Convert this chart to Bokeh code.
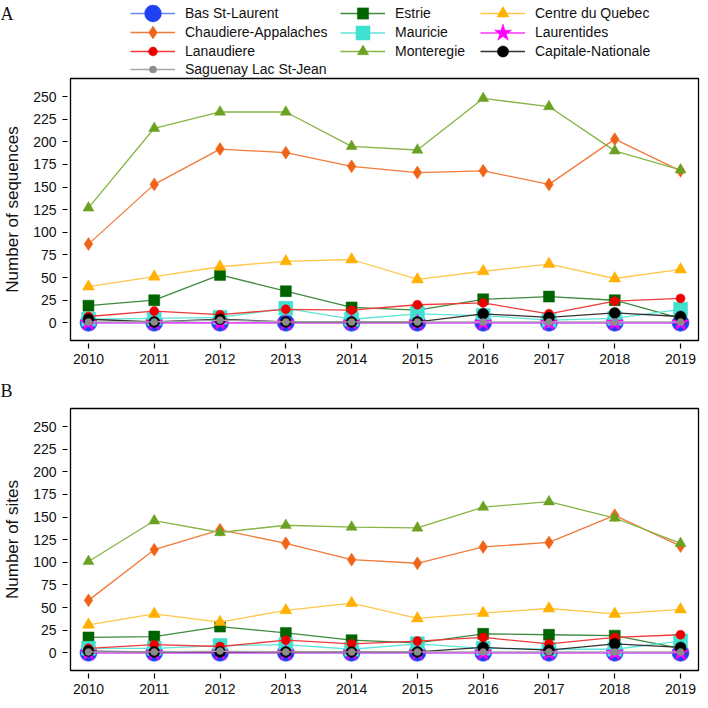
from bokeh.plotting import figure
from bokeh.models import Range1d, FixedTicker, Legend, LegendItem, Label, ColumnDataSource
from bokeh.layouts import column
from bokeh.embed import file_html
from bokeh.resources import INLINE

years = [2010, 2011, 2012, 2013, 2014, 2015, 2016, 2017, 2018, 2019]
regions = ["Bas St-Laurent", "Estrie", "Centre du Quebec", "Chaudiere-Appalaches",
           "Mauricie", "Laurentides", "Lanaudiere", "Monteregie",
           "Capitale-Nationale", "Saguenay Lac St-Jean"]
y_ticks = [0, 25, 50, 75, 100, 125, 150, 175, 200, 225, 250]

# Panel A: number of sequences
seq_bas = [0, 0, 0, 0, 0, 0, 0, 0, 0, 0]
seq_estrie = [19, 25, 53, 35, 17, 14, 26, 29, 25, 5]
seq_centre = [40, 51, 62, 68, 70, 48, 57, 65, 49, 59]
seq_chaudiere = [87, 153, 192, 188, 173, 166, 168, 153, 203, 168]
seq_mauricie = [4, 5, 6, 16, 4, 10, 8, 3, 5, 15]
seq_laurentides = [0, 0, 0, 0, 0, 0, 0, 0, 0, 0]
seq_lanaudiere = [7, 13, 9, 15, 14, 20, 22, 10, 24, 27]
seq_monteregie = [127, 215, 233, 233, 195, 191, 248, 239, 190, 169]
seq_capitale = [4, 1, 4, 1, 1, 1, 10, 6, 11, 7]
seq_saguenay = [1, 1, 3, 1, 1, 1, 1, 1, 1, 1]

# Panel B: number of sites
site_bas = [0, 0, 0, 0, 0, 0, 0, 0, 0, 0]
site_estrie = [17, 18, 29, 22, 14, 11, 21, 20, 19, 5]
site_centre = [31, 43, 34, 47, 55, 38, 44, 49, 43, 48]
site_chaudiere = [58, 114, 136, 121, 103, 99, 117, 122, 152, 118]
site_mauricie = [5, 5, 8, 9, 4, 10, 5, 4, 4, 13]
site_laurentides = [0, 0, 0, 0, 0, 0, 0, 0, 0, 0]
site_lanaudiere = [5, 9, 7, 14, 10, 13, 17, 10, 17, 20]
site_monteregie = [101, 146, 133, 141, 139, 138, 161, 167, 149, 121]
site_capitale = [2, 1, 1, 1, 1, 1, 6, 3, 10, 6]
site_saguenay = [1, 1, 2, 1, 1, 1, 1, 1, 1, 1]

seq_series = [seq_bas, seq_estrie, seq_centre, seq_chaudiere, seq_mauricie,
              seq_laurentides, seq_lanaudiere, seq_monteregie, seq_capitale, seq_saguenay]
site_series = [site_bas, site_estrie, site_centre, site_chaudiere, site_mauricie,
               site_laurentides, site_lanaudiere, site_monteregie, site_capitale, site_saguenay]

# styles: marker, size, fill colour, line colour
styles = [
    ("circle", 17, "#2040F4", "#6F86F5"),
    ("square", 11, "#006400", "#3E8A3E"),
    ("triangle", 12, "#FFB000", "#FFC64A"),
    ("diamond", 13, "#F06418", "#F27A3A"),
    ("square", 14, "#40E0D0", "#5EE6D8"),
    ("star", 18, "#FF00FF", "#FF33FF"),
    ("circle", 9, "#EE0000", "#F03A3A"),
    ("triangle", 11, "#6AA121", "#85B544"),
    ("circle", 11, "#000000", "#333333"),
    ("circle", 7, "#8C8C8C", "#A6A6A6"),
]

FONT = "Liberation Sans"
WIDTH = 700
BORDER_LEFT = 68
BORDER_RIGHT = 2
FRAME_H = 262
LEG_H = 77
GAP_H = 36
PANEL_TOP = 1
PANEL_H = 293


def draw_series(p, series, visible=True):
    out = []
    for name, vals, (mk, sz, fc, lc) in zip(regions, series, styles):
        src = ColumnDataSource(dict(x=years, y=vals))
        ln = p.line("x", "y", source=src, line_color=lc, line_width=1.3, visible=visible)
        sc = p.scatter("x", "y", source=src, marker=mk, size=sz, fill_color=fc,
                       line_color=fc, line_width=0.5, visible=visible)
        out.append((name, ln, sc, sz))
    return out


def make_panel(series, ylabel, top, height):
    p = figure(width=WIDTH, height=height, output_backend="svg", toolbar_location=None,
               x_range=Range1d(2009.727, 2019.273), y_range=Range1d(-19.5, 270),
               min_border_left=BORDER_LEFT, min_border_right=BORDER_RIGHT,
               min_border_top=top, min_border_bottom=height - top - FRAME_H)
    p.xgrid.visible = False
    p.ygrid.visible = False
    p.outline_line_color = "#000000"
    p.outline_line_width = 1.3
    p.background_fill_color = "white"
    p.border_fill_color = "white"
    p.xaxis.ticker = FixedTicker(ticks=years)
    p.yaxis.ticker = FixedTicker(ticks=y_ticks)
    for ax in (p.xaxis[0], p.yaxis[0]):
        ax.axis_line_color = None
        ax.major_tick_in = -3
        ax.major_tick_out = 8
        ax.major_tick_line_color = "#000000"
        ax.major_tick_line_width = 1.2
        ax.minor_tick_line_color = None
        ax.major_label_text_font = FONT
        ax.major_label_text_font_size = "14px"
        ax.major_label_text_color = "#111111"
    p.xaxis.major_label_standoff = 5
    p.yaxis.major_label_standoff = 6
    p.yaxis.axis_label = ylabel
    p.yaxis.axis_label_text_font = FONT
    p.yaxis.axis_label_text_font_size = "17px"
    p.yaxis.axis_label_text_font_style = "normal"
    p.yaxis.axis_label_text_color = "#111111"
    p.yaxis.axis_label_standoff = 8
    draw_series(p, series)
    return p


def blank_fig(height):
    f = figure(width=WIDTH, height=height, output_backend="svg", toolbar_location=None,
               x_range=Range1d(0, WIDTH), y_range=Range1d(0, height),
               x_axis_type=None, y_axis_type=None,
               min_border=0, min_border_left=0, min_border_right=0,
               min_border_top=0, min_border_bottom=0)
    try:
        f.frame_align = False
    except Exception:
        pass
    f.xgrid.visible = False
    f.ygrid.visible = False
    f.outline_line_color = None
    f.background_fill_color = "white"
    f.border_fill_color = "white"
    return f


# top strip: panel tag "A" and legend (3 columns, filled row by row)
pLeg = blank_fig(LEG_H)
pLeg.add_layout(Label(x=0, y=LEG_H - 13, text="A", text_font="Liberation Serif",
                      text_font_size="18px", text_color="#111111",
                      text_baseline="alphabetic"))
leg_rend = draw_series(pLeg, seq_series, visible=False)
col_x = [130, 340, 480]
row_y = [13, 32, 51, 69]
for i, (name, ln, sc, sz) in enumerate(leg_rend):
    gh = max(sz / 0.4, 16)
    cx = col_x[i % 3]
    cy = row_y[i // 3]
    leg = Legend(items=[LegendItem(label=name, renderers=[ln, sc])],
                 location=(cx, LEG_H - (cy + gh / 2)),
                 glyph_width=45, glyph_height=int(round(gh)), label_height=int(round(gh)),
                 label_standoff=10, padding=0, margin=0, spacing=0,
                 border_line_color=None, background_fill_alpha=0,
                 label_text_font=FONT, label_text_font_size="14px",
                 label_text_color="#111111")
    pLeg.add_layout(leg, "center")

pA = make_panel(seq_series, "Number of sequences", PANEL_TOP, PANEL_H)

pGap = blank_fig(GAP_H)
pGap.add_layout(Label(x=0, y=GAP_H - 20, text="B", text_font="Liberation Serif",
                      text_font_size="18px", text_color="#111111",
                      text_baseline="alphabetic"))

pB = make_panel(site_series, "Number of sites", 2, 294)

layout = column(pLeg, pA, pGap, pB, spacing=0)
open("out.html", "w").write(file_html(layout, INLINE))
